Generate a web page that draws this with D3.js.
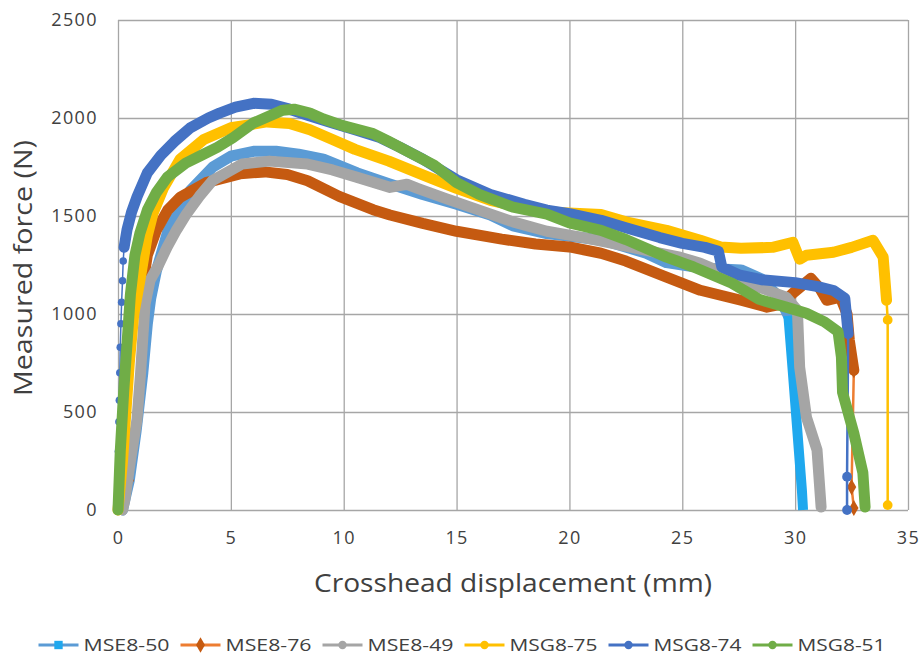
<!DOCTYPE html>
<html>
<head>
<meta charset="utf-8">
<script src="https://cdn.jsdelivr.net/npm/d3@7"></script>
<style>
  html, body { margin: 0; padding: 0; background: #fff; }
  svg { display: block; font-family: "Open Sans", "Noto Sans", sans-serif; }
</style>
</head>
<body>
<svg id="chart" width="924" height="657"></svg>
<script>
const X_TICKS = [0, 5, 10, 15, 20, 25, 30, 35];
const Y_TICKS = [0, 500, 1000, 1500, 2000, 2500];
const SERIES_NAMES = ["MSE8-50", "MSE8-76", "MSE8-49", "MSG8-75", "MSG8-74", "MSG8-51"];

// [displacement mm, force N]
const mse850Band = [[0.2,0],[0.5,150],[0.8,400],[1.1,700],[1.3,950],[1.45,1080],[1.7,1220],[2.2,1420],[3.2,1630],[4.2,1750],[5.0,1805],[6.0,1830],[7.0,1830],[8.0,1815],[9.1,1790],[10.6,1720],[12.0,1665],[13.5,1610],[15.0,1560],[16.5,1505],[17.5,1450],[19.0,1410],[20.5,1390],[21.5,1376],[23.4,1310],[24.3,1262],[25.8,1235],[27.6,1225],[28.5,1180],[29.3,1085],[29.7,990]];
const mse850Drop = [[29.7,990],[29.9,700],[30.1,400],[30.3,100],[30.35,0]];

const mse876Head = [[0,0],[0.6,150],[0.9,450],[1.0,750],[1.05,1000],[1.1,1150]];
const mse876Band = [[1.1,1150],[1.3,1300],[1.7,1427],[2.2,1530],[2.75,1595],[3.9,1670],[5.4,1715],[6.5,1725],[7.5,1712],[8.4,1680],[9.8,1600],[11.3,1532],[12.05,1505],[13.5,1462],[15.0,1422],[17.0,1382],[18.5,1357],[20.0,1342],[21.4,1310],[22.5,1270],[24.3,1188],[25.8,1121],[27.6,1070],[28.75,1035],[29.4,1050],[29.9,1106],[30.7,1182],[31.1,1130],[31.4,1070],[32.0,1086],[32.3,1000],[32.4,866],[32.6,713]];
const mse876Tail = [[32.6,713],[32.5,117],[32.6,10]];

const mse849Band = [[0.2,0],[0.3,50],[0.55,250],[0.84,460],[1.0,700],[1.1,880],[1.2,1050],[1.42,1172],[1.8,1250],[2.17,1340],[2.6,1430],[3.05,1513],[3.6,1600],[4.2,1682],[5.5,1765],[6.7,1780],[8.4,1765],[9.5,1735],[10.6,1697],[12.05,1646],[12.8,1662],[13.3,1640],[14.5,1590],[16.0,1530],[17.5,1470],[19.0,1422],[20.5,1392],[21.9,1361],[23.5,1322],[24.9,1290],[25.8,1259],[27.0,1200],[28.4,1137],[29.6,1086],[30.1,1019],[30.2,729],[30.5,474],[30.97,306],[31.15,15]];

const msg875Band = [[0,0],[0.2,250],[0.35,500],[0.5,750],[0.7,1000],[0.97,1172],[1.3,1400],[1.55,1513],[2.0,1640],[2.75,1790],[3.8,1890],[5.0,1950],[6.6,1980],[7.6,1972],[8.5,1940],[9.5,1890],[10.5,1840],[12.0,1780],[13.5,1710],[15.0,1641],[16.5,1580],[18.0,1540],[19.5,1518],[21.4,1508],[22.5,1470],[24.3,1427],[25.8,1376],[26.7,1342],[27.6,1335],[29.0,1340],[29.9,1366],[30.2,1280],[30.5,1300],[31.7,1315],[32.5,1340],[33.45,1376],[33.9,1290],[34.05,1070]];
const msg875Tail = [[34.05,1070],[34.1,970],[34.1,25]];

const msg874Head = [[0,0],[0,150],[0.02,300],[0.04,450],[0.06,560],[0.08,700],[0.1,830],[0.13,950],[0.16,1060],[0.2,1170],[0.23,1270],[0.27,1340]];
const msg874Band = [[0.27,1340],[0.4,1430],[0.6,1520],[0.85,1600],[1.3,1720],[1.9,1810],[2.5,1880],[3.2,1950],[4.0,2000],[4.5,2025],[5.2,2055],[6.0,2075],[6.8,2070],[7.6,2045],[8.5,2010],[9.5,1975],[10.5,1940],[11.6,1900],[12.5,1850],[13.5,1790],[15.0,1685],[16.5,1610],[18.0,1560],[19.0,1530],[20.0,1512],[21.4,1478],[22.5,1440],[24.0,1390],[25.0,1360],[26.0,1340],[26.6,1320],[26.75,1240],[27.5,1200],[28.5,1175],[30.0,1160],[31.0,1140],[31.7,1120],[32.2,1080],[32.35,900]];
const msg874Tail = [[32.35,900],[32.3,170],[32.3,0]];

const msg851Band = [[0,0],[0.1,300],[0.25,600],[0.4,850],[0.55,1100],[0.75,1300],[0.97,1412],[1.3,1530],[1.7,1620],[2.2,1700],[3.0,1770],[3.7,1810],[4.4,1850],[5.1,1900],[6.0,1975],[7.3,2040],[7.8,2045],[8.5,2025],[9.1,1995],[10.0,1960],[11.3,1920],[12.0,1880],[13.0,1820],[14.0,1760],[15.0,1670],[16.0,1610],[17.5,1545],[19.0,1510],[20.0,1465],[21.4,1427],[22.5,1380],[24.3,1290],[25.5,1240],[27.2,1157],[28.4,1075],[29.6,1035],[30.5,1004],[31.3,960],[31.9,910],[32.05,780],[32.1,600],[32.6,392],[33.0,190],[33.1,15]];

const SERIES = [
  { name: SERIES_NAMES[0], band: mse850Band, drop: mse850Drop, head: [], tail: [], line: "#5B9BD5", mark: "#1FA8EE", shape: "square" },
  { name: SERIES_NAMES[1], band: mse876Band, drop: [], head: mse876Head, tail: mse876Tail, line: "#ED7D31", mark: "#C55A11", shape: "diamond" },
  { name: SERIES_NAMES[2], band: mse849Band, drop: [], head: [], tail: [], line: "#A5A5A5", mark: "#A5A5A5", shape: "circle" },
  { name: SERIES_NAMES[3], band: msg875Band, drop: [], head: [], tail: msg875Tail, line: "#FFC000", mark: "#FFC000", shape: "circle" },
  { name: SERIES_NAMES[4], band: msg874Band, drop: [], head: msg874Head, tail: msg874Tail, line: "#4472C4", mark: "#4472C4", shape: "circle" },
  { name: SERIES_NAMES[5], band: msg851Band, drop: [], head: [], tail: [], line: "#70AD47", mark: "#70AD47", shape: "circle" }
];

const width = 924;
const height = 657;
const margin = { left: 118, right: 16, top: 20, bottom: 147 };
const plotRight = width - margin.right;
const plotBottom = height - margin.bottom;
const textColor = "#404040";
const gridColor = "#A6A6A6";

const svg = d3.select("#chart");
svg.append("rect").attr("width", width).attr("height", height).attr("fill", "#fff");

const x = d3.scaleLinear().domain([0, 35]).range([margin.left, plotRight]);
const y = d3.scaleLinear().domain([0, 2500]).range([plotBottom, margin.top]);

const xAxis = svg.append("g")
  .attr("transform", `translate(0,${plotBottom})`)
  .call(d3.axisBottom(x).tickValues(X_TICKS).tickFormat(d3.format("d"))
    .tickSize(-(plotBottom - margin.top)).tickPadding(21));
const yAxis = svg.append("g")
  .attr("transform", `translate(${margin.left},0)`)
  .call(d3.axisLeft(y).tickValues(Y_TICKS).tickFormat(d3.format("d"))
    .tickSize(-(plotRight - margin.left)).tickPadding(20));

[xAxis, yAxis].forEach((axis) => {
  axis.select(".domain").remove();
  axis.selectAll(".tick line").attr("stroke", gridColor).attr("stroke-width", 1.3);
  axis.selectAll(".tick text")
    .attr("fill", textColor)
    .attr("font-size", 18)
    .attr("font-family", "Open Sans")
    .style("letter-spacing", "1.4px");
});

const symbols = { square: d3.symbolSquare, diamond: d3.symbolDiamond, circle: d3.symbolCircle };
const line = d3.line().x((d) => x(d[0])).y((d) => y(d[1]));

const plot = svg.append("g");
SERIES.forEach((s) => {
  const g = plot.append("g");
  if (s.head.length) {
    g.append("path").attr("d", line(s.head)).attr("fill", "none")
      .attr("stroke", s.line).attr("stroke-width", 1.5);
    g.selectAll(".head").data(s.head).enter().append("path")
      .attr("transform", (d) => `translate(${x(d[0])},${y(d[1])})`)
      .attr("d", d3.symbol().type(symbols[s.shape]).size(s.shape === "diamond" ? 20 : 45))
      .attr("fill", s.mark);
  }
  g.append("path").attr("d", line(s.band)).attr("fill", "none")
    .attr("stroke", s.shape === "diamond" ? s.mark : s.line)
    .attr("stroke-width", 11)
    .attr("stroke-linejoin", "round")
    .attr("stroke-linecap", "round");
  if (s.drop.length) {
    g.append("path").attr("d", line(s.drop)).attr("fill", "none")
      .attr("stroke", s.mark).attr("stroke-width", 10)
      .attr("stroke-linejoin", "round");
  }
  if (s.tail.length) {
    g.append("path").attr("d", line(s.tail)).attr("fill", "none")
      .attr("stroke", s.line).attr("stroke-width", 2.5);
    g.selectAll(".tail").data(s.tail).enter().append("path")
      .attr("transform", (d) => `translate(${x(d[0])},${y(d[1])})`)
      .attr("d", d3.symbol().type(symbols[s.shape]).size(75))
      .attr("fill", s.mark);
  }
});

// axis titles
svg.append("text")
  .attr("x", (margin.left + plotRight) / 2)
  .attr("y", 592)
  .attr("text-anchor", "middle")
  .attr("font-size", 26)
  .attr("fill", textColor)
  .attr("textLength", 398)
  .attr("lengthAdjust", "spacingAndGlyphs")
  .text("Crosshead displacement (mm)");

svg.append("text")
  .attr("transform", "translate(32,268) rotate(-90)")
  .attr("text-anchor", "middle")
  .attr("font-size", 26)
  .attr("fill", textColor)
  .attr("textLength", 256)
  .attr("lengthAdjust", "spacingAndGlyphs")
  .text("Measured force (N)");

// legend
const lineLen = 40;
const textW = (name) => (name.startsWith("MSG") ? 88 : 86);
const itemW = (name) => lineLen + 5 + textW(name) + 11;
const totalW = d3.sum(SERIES, (s) => itemW(s.name)) - 11;
let lx = (width - totalW) / 2;
const legendY = 645;
const legend = svg.append("g");
SERIES.forEach((s) => {
  const item = legend.append("g").attr("transform", `translate(${lx},${legendY})`);
  item.append("line").attr("x1", 0).attr("x2", lineLen).attr("y1", 0).attr("y2", 0)
    .attr("stroke", s.line).attr("stroke-width", 3);
  item.append("path")
    .attr("transform", `translate(${lineLen / 2},0)`)
    .attr("d", d3.symbol().type(symbols[s.shape]).size(s.shape === "circle" ? 55 : 70))
    .attr("fill", s.mark);
  item.append("text")
    .attr("x", lineLen + 5)
    .attr("y", 6)
    .attr("font-size", 17)
    .attr("fill", textColor)
    .attr("textLength", textW(s.name))
    .attr("lengthAdjust", "spacingAndGlyphs")
    .text(s.name);
  lx += itemW(s.name);
});
</script>
</body>
</html>
